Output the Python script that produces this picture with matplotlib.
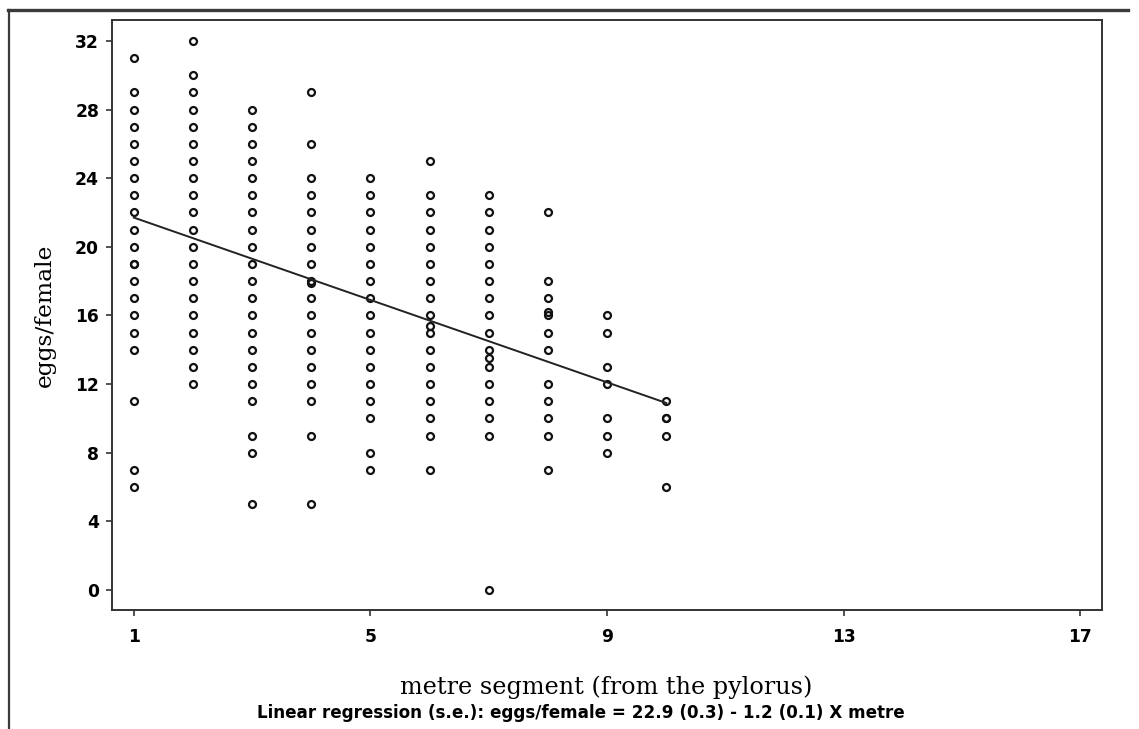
import matplotlib
matplotlib.use("Agg")
import matplotlib.pyplot as plt
from matplotlib.lines import Line2D
import numpy as np

# eggs per female recorded in each metre segment of the gut
seg1 = [31, 29, 28, 27, 26, 25, 24, 23, 22, 21, 20, 19, 19, 18, 17, 16, 15, 14, 11, 7, 6]
seg2 = [32, 30, 29, 28, 27, 26, 25, 24, 23, 22, 21, 20, 19, 18, 17, 16, 15, 14, 13, 12]
seg3 = [28, 27, 26, 25, 24, 23, 22, 21, 20, 19, 18, 17, 16, 15, 14, 13, 12, 11, 9, 8, 5]
seg4 = [29, 26, 24, 23, 22, 21, 20, 19, 18, 17.9, 17, 16, 15, 14, 13, 12, 11, 9, 5]
seg5 = [24, 23, 22, 21, 20, 19, 18, 17, 16, 15, 14, 13, 12, 11, 10, 8, 7]
seg6 = [25, 23, 22, 21, 20, 19, 18, 17, 16, 15.4, 15, 14, 13, 12, 11, 10, 9, 7]
seg7 = [23, 22, 21, 20, 19, 18, 17, 16, 15, 14, 13.5, 13, 12, 11, 10, 9, 0]
seg8 = [22, 18, 17, 16.2, 16, 15, 14, 12, 11, 10, 9, 7]
seg9 = [16, 15, 13, 12, 10, 9, 8]
seg10 = [11, 10, 10, 9, 6]

segments = [seg1, seg2, seg3, seg4, seg5, seg6, seg7, seg8, seg9, seg10]
metre = list(range(1, 11))

# fitted model: eggs/female = 22.9 - 1.2 * metre
intercept = 22.9
slope = -1.2

xticks = [1, 5, 9, 13, 17]
yticks = [0, 4, 8, 12, 16, 20, 24, 28, 32]

xs = np.concatenate([[m] * len(v) for m, v in zip(metre, segments)])
ys = np.concatenate([np.asarray(v, float) for v in segments])

fig = plt.figure(figsize=(11.39, 7.29), dpi=100)
ax = fig.add_axes([0.0983, 0.1632, 0.8692, 0.8094])

ax.plot(xs, ys, linestyle="none", marker="o", markersize=5.0,
        markerfacecolor="none", markeredgecolor="#111111", markeredgewidth=1.6)

fit_x = np.array([metre[0], metre[-1]], float)
ax.plot(fit_x, intercept + slope * fit_x, color="#222222", linewidth=1.4)

ax.set_xlim(0.628, 17.37)
ax.set_ylim(-1.17, 33.22)
ax.set_xticks(xticks)
ax.set_yticks(yticks)
tick_font = dict(fontfamily="DejaVu Sans", fontweight="bold", fontsize=12.3)
ax.set_xticklabels([str(t) for t in xticks], **tick_font)
ax.set_yticklabels([str(t) for t in yticks], **tick_font)
ax.tick_params(axis="both", direction="out", length=4.3, width=1.2,
               color="#333333")
ax.tick_params(axis="x", pad=8.6)
ax.tick_params(axis="y", pad=5)

for s in ax.spines.values():
    s.set_linewidth(1.4)
    s.set_color("#333333")

ax.set_ylabel("eggs/female", fontfamily="DejaVu Serif", fontsize=16.8)
ax.yaxis.set_label_coords(-0.0677, 0.5)
ax.yaxis.label.set_verticalalignment("center")

fig.text(606 / 1139, 1 - 687 / 729, "metre segment (from the pylorus)",
         fontfamily="DejaVu Serif", fontsize=17.2, ha="center", va="center")
fig.text(581 / 1139, 1 - 713 / 729,
         "Linear regression (s.e.): eggs/female = 22.9 (0.3) - 1.2 (0.1) X metre",
         fontfamily="DejaVu Sans", fontweight="bold", fontsize=12.1,
         ha="center", va="center")

# surrounding frame
fig.add_artist(Line2D([8 / 1139, 1128 / 1139], [1 - 10 / 729, 1 - 10 / 729],
                      color="#3a3a3a", linewidth=2.4, transform=fig.transFigure))
fig.add_artist(Line2D([9 / 1139, 9 / 1139], [1 - 10 / 729, 0],
                      color="#3a3a3a", linewidth=1.6, transform=fig.transFigure))

fig.savefig("out.png", dpi=100)
